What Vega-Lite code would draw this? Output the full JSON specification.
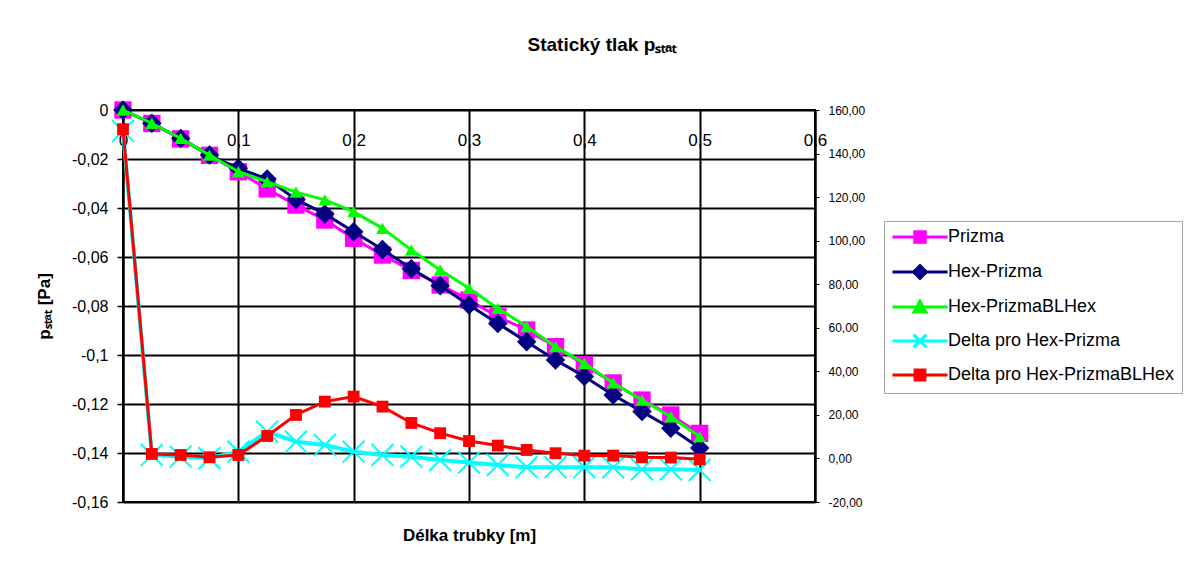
{
  "$schema": "https://vega.github.io/schema/vega-lite/v6.json",
  "width": 692,
  "height": 392,
  "autosize": {"type": "none"},
  "padding": {"left": 123, "top": 110, "right": 381, "bottom": 66},
  "background": "white",
  "config": {
    "view": {"stroke": "black", "strokeWidth": 2},
    "font": "Liberation Sans"
  },
  "title": {
    "text": "Statický tlak pₛₜₐₜ",
    "font": "Liberation Sans",
    "fontSize": 19,
    "fontWeight": "bold",
    "color": "black",
    "anchor": "middle",
    "frame": "group",
    "dx": 133,
    "baseline": "alphabetic",
    "offset": 30
  },
  "data": {
    "values": [
      {"x": 0, "series": "Prizma", "v": 0},
      {"x": 0.025, "series": "Prizma", "v": -0.0055},
      {"x": 0.05, "series": "Prizma", "v": -0.0118},
      {"x": 0.075, "series": "Prizma", "v": -0.0185},
      {"x": 0.1, "series": "Prizma", "v": -0.0252},
      {"x": 0.125, "series": "Prizma", "v": -0.0322},
      {"x": 0.15, "series": "Prizma", "v": -0.0388},
      {"x": 0.175, "series": "Prizma", "v": -0.0449},
      {"x": 0.2, "series": "Prizma", "v": -0.0524},
      {"x": 0.225, "series": "Prizma", "v": -0.0592},
      {"x": 0.25, "series": "Prizma", "v": -0.0655},
      {"x": 0.275, "series": "Prizma", "v": -0.0714},
      {"x": 0.3, "series": "Prizma", "v": -0.0776},
      {"x": 0.325, "series": "Prizma", "v": -0.0844},
      {"x": 0.35, "series": "Prizma", "v": -0.0898},
      {"x": 0.375, "series": "Prizma", "v": -0.0966},
      {"x": 0.4, "series": "Prizma", "v": -0.104},
      {"x": 0.425, "series": "Prizma", "v": -0.1114},
      {"x": 0.45, "series": "Prizma", "v": -0.1184},
      {"x": 0.475, "series": "Prizma", "v": -0.1245},
      {"x": 0.5, "series": "Prizma", "v": -0.132},
      {"x": 0, "series": "Hex-Prizma", "v": 0},
      {"x": 0.025, "series": "Hex-Prizma", "v": -0.0054},
      {"x": 0.05, "series": "Hex-Prizma", "v": -0.0116},
      {"x": 0.075, "series": "Hex-Prizma", "v": -0.0184},
      {"x": 0.1, "series": "Hex-Prizma", "v": -0.0238},
      {"x": 0.125, "series": "Hex-Prizma", "v": -0.0282},
      {"x": 0.15, "series": "Hex-Prizma", "v": -0.0365},
      {"x": 0.175, "series": "Hex-Prizma", "v": -0.0424},
      {"x": 0.2, "series": "Hex-Prizma", "v": -0.0497},
      {"x": 0.225, "series": "Hex-Prizma", "v": -0.0569},
      {"x": 0.25, "series": "Hex-Prizma", "v": -0.0648},
      {"x": 0.275, "series": "Hex-Prizma", "v": -0.0717},
      {"x": 0.3, "series": "Hex-Prizma", "v": -0.0796},
      {"x": 0.325, "series": "Hex-Prizma", "v": -0.0871},
      {"x": 0.35, "series": "Hex-Prizma", "v": -0.0946},
      {"x": 0.375, "series": "Hex-Prizma", "v": -0.102},
      {"x": 0.4, "series": "Hex-Prizma", "v": -0.1088},
      {"x": 0.425, "series": "Hex-Prizma", "v": -0.1163},
      {"x": 0.45, "series": "Hex-Prizma", "v": -0.1231},
      {"x": 0.475, "series": "Hex-Prizma", "v": -0.1299},
      {"x": 0.5, "series": "Hex-Prizma", "v": -0.138},
      {"x": 0, "series": "Hex-PrizmaBLHex", "v": 0},
      {"x": 0.025, "series": "Hex-PrizmaBLHex", "v": -0.0054},
      {"x": 0.05, "series": "Hex-PrizmaBLHex", "v": -0.0116},
      {"x": 0.075, "series": "Hex-PrizmaBLHex", "v": -0.0184},
      {"x": 0.1, "series": "Hex-PrizmaBLHex", "v": -0.0252},
      {"x": 0.125, "series": "Hex-PrizmaBLHex", "v": -0.0293},
      {"x": 0.15, "series": "Hex-PrizmaBLHex", "v": -0.0335},
      {"x": 0.175, "series": "Hex-PrizmaBLHex", "v": -0.0367},
      {"x": 0.2, "series": "Hex-PrizmaBLHex", "v": -0.0415},
      {"x": 0.225, "series": "Hex-PrizmaBLHex", "v": -0.0483},
      {"x": 0.25, "series": "Hex-PrizmaBLHex", "v": -0.0571},
      {"x": 0.275, "series": "Hex-PrizmaBLHex", "v": -0.0653},
      {"x": 0.3, "series": "Hex-PrizmaBLHex", "v": -0.0728},
      {"x": 0.325, "series": "Hex-PrizmaBLHex", "v": -0.081},
      {"x": 0.35, "series": "Hex-PrizmaBLHex", "v": -0.0884},
      {"x": 0.375, "series": "Hex-PrizmaBLHex", "v": -0.0966},
      {"x": 0.4, "series": "Hex-PrizmaBLHex", "v": -0.1034},
      {"x": 0.425, "series": "Hex-PrizmaBLHex", "v": -0.1114},
      {"x": 0.45, "series": "Hex-PrizmaBLHex", "v": -0.1184},
      {"x": 0.475, "series": "Hex-PrizmaBLHex", "v": -0.1252},
      {"x": 0.5, "series": "Hex-PrizmaBLHex", "v": -0.1333},
      {"x": 0, "series": "Delta pro Hex-Prizma", "v": 150.4},
      {"x": 0.025, "series": "Delta pro Hex-Prizma", "v": 1.6},
      {"x": 0.05, "series": "Delta pro Hex-Prizma", "v": 0.8},
      {"x": 0.075, "series": "Delta pro Hex-Prizma", "v": 0.1},
      {"x": 0.1, "series": "Delta pro Hex-Prizma", "v": 3.1},
      {"x": 0.125, "series": "Delta pro Hex-Prizma", "v": 12.3},
      {"x": 0.15, "series": "Delta pro Hex-Prizma", "v": 7.7},
      {"x": 0.175, "series": "Delta pro Hex-Prizma", "v": 6.2},
      {"x": 0.2, "series": "Delta pro Hex-Prizma", "v": 3.1},
      {"x": 0.225, "series": "Delta pro Hex-Prizma", "v": 1.6},
      {"x": 0.25, "series": "Delta pro Hex-Prizma", "v": 0.8},
      {"x": 0.275, "series": "Delta pro Hex-Prizma", "v": -0.7},
      {"x": 0.3, "series": "Delta pro Hex-Prizma", "v": -1.9},
      {"x": 0.325, "series": "Delta pro Hex-Prizma", "v": -3.0},
      {"x": 0.35, "series": "Delta pro Hex-Prizma", "v": -4.0},
      {"x": 0.375, "series": "Delta pro Hex-Prizma", "v": -4.0},
      {"x": 0.4, "series": "Delta pro Hex-Prizma", "v": -4.0},
      {"x": 0.425, "series": "Delta pro Hex-Prizma", "v": -4.1},
      {"x": 0.45, "series": "Delta pro Hex-Prizma", "v": -5.0},
      {"x": 0.475, "series": "Delta pro Hex-Prizma", "v": -5.0},
      {"x": 0.5, "series": "Delta pro Hex-Prizma", "v": -5.3},
      {"x": 0, "series": "Delta pro Hex-PrizmaBLHex", "v": 151.2},
      {"x": 0.025, "series": "Delta pro Hex-PrizmaBLHex", "v": 2.06},
      {"x": 0.05, "series": "Delta pro Hex-PrizmaBLHex", "v": 1.6},
      {"x": 0.075, "series": "Delta pro Hex-PrizmaBLHex", "v": 0.55},
      {"x": 0.1, "series": "Delta pro Hex-PrizmaBLHex", "v": 1.6},
      {"x": 0.125, "series": "Delta pro Hex-PrizmaBLHex", "v": 10.3},
      {"x": 0.15, "series": "Delta pro Hex-PrizmaBLHex", "v": 20.0},
      {"x": 0.175, "series": "Delta pro Hex-PrizmaBLHex", "v": 26.1},
      {"x": 0.2, "series": "Delta pro Hex-PrizmaBLHex", "v": 28.4},
      {"x": 0.225, "series": "Delta pro Hex-PrizmaBLHex", "v": 23.8},
      {"x": 0.25, "series": "Delta pro Hex-PrizmaBLHex", "v": 16.3},
      {"x": 0.275, "series": "Delta pro Hex-PrizmaBLHex", "v": 11.6},
      {"x": 0.3, "series": "Delta pro Hex-PrizmaBLHex", "v": 8.0},
      {"x": 0.325, "series": "Delta pro Hex-PrizmaBLHex", "v": 5.9},
      {"x": 0.35, "series": "Delta pro Hex-PrizmaBLHex", "v": 3.9},
      {"x": 0.375, "series": "Delta pro Hex-PrizmaBLHex", "v": 2.4},
      {"x": 0.4, "series": "Delta pro Hex-PrizmaBLHex", "v": 1.3},
      {"x": 0.425, "series": "Delta pro Hex-PrizmaBLHex", "v": 1.3},
      {"x": 0.45, "series": "Delta pro Hex-PrizmaBLHex", "v": 0.5},
      {"x": 0.475, "series": "Delta pro Hex-PrizmaBLHex", "v": 0.4},
      {"x": 0.5, "series": "Delta pro Hex-PrizmaBLHex", "v": -0.4}
    ]
  },
  "encoding": {
    "x": {
      "field": "x",
      "type": "quantitative",
      "scale": {"domain": [0, 0.6], "nice": false, "zero": false},
      "axis": {
        "orient": "top",
        "values": [0, 0.1, 0.2, 0.3, 0.4, 0.5, 0.6],
        "labelExpr": "replace(toString(datum.value), '.', ',')",
        "domain": false,
        "ticks": false,
        "tickSize": 0,
        "labelPadding": -30,
        "labelBaseline": "middle",
        "labelFont": "Liberation Sans",
        "labelFontSize": 17,
        "labelColor": "black",
        "labelFlush": false,
        "labelOverlap": false,
        "labelBound": false,
        "grid": true,
        "gridColor": "black",
        "gridWidth": 2,
        "gridOpacity": 1,
        "title": "Délka trubky [m]",
        "titleFont": "Liberation Sans",
        "titleFontSize": 17,
        "titleFontWeight": "bold",
        "titleColor": "black",
        "titleX": 346,
        "titleY": 425,
        "titleAlign": "center",
        "titleBaseline": "middle",
        "titleAngle": 0
      }
    },
    "color": {
      "field": "series",
      "type": "nominal",
      "scale": {
        "domain": ["Prizma", "Hex-Prizma", "Hex-PrizmaBLHex", "Delta pro Hex-Prizma", "Delta pro Hex-PrizmaBLHex"],
        "range": ["#ff00ff", "#000080", "#00ff00", "#00ffff", "#ff0000"]
      },
      "legend": null
    }
  },
  "layer": [
    {
      "encoding": {
        "y": {
          "field": "v",
          "type": "quantitative",
          "scale": {"domain": [-0.16, 0], "nice": false, "zero": false},
          "axis": {
            "orient": "left",
            "values": [0, -0.02, -0.04, -0.06, -0.08, -0.1, -0.12, -0.14, -0.16],
            "labelExpr": "replace(toString(datum.value), '.', ',')",
            "grid": true,
            "gridColor": "black",
            "gridWidth": 2,
            "gridOpacity": 1,
            "domainColor": "black",
            "domainWidth": 2,
            "tickColor": "black",
            "tickWidth": 1.5,
            "tickSize": 6,
            "labelPadding": 9,
            "labelFont": "Liberation Sans",
            "labelFontSize": 16,
            "labelColor": "black",
            "labelOverlap": false,
            "labelFlush": false,
            "title": "pₛₜₐₜ [Pa]",
            "titleFont": "Liberation Sans",
            "titleFontSize": 17,
            "titleFontWeight": "bold",
            "titleColor": "black",
            "titlePadding": 18
          }
        }
      },
      "layer": [
        {
          "transform": [{"filter": "datum.series === 'Prizma'"}],
          "mark": {"type": "line", "strokeWidth": 3, "point": {"shape": "square", "size": 300, "filled": true, "opacity": 1}},
          "encoding": {
            "color": {
              "field": "series",
              "type": "nominal",
              "scale": {
                "domain": ["Prizma", "Hex-Prizma", "Hex-PrizmaBLHex", "Delta pro Hex-Prizma", "Delta pro Hex-PrizmaBLHex"],
                "range": ["#ff00ff", "#000080", "#00ff00", "#00ffff", "#ff0000"]
              },
              "legend": {
                "orient": "none",
                "legendX": 761,
                "legendY": 111,
                "title": null,
                "padding": 7,
                "strokeColor": "#a6a6a6",
                "fillColor": "white",
                "labelFont": "Liberation Sans",
                "labelFontSize": 18,
                "labelColor": "black",
                "labelLimit": 400,
                "rowPadding": 10,
                "symbolSize": 150,
                "symbolStrokeWidth": 3,
                "symbolOffset": 20,
                "labelOffset": 19,
                "encode": {
                  "symbols": {
                    "update": {
                      "shape": {"signal": "datum.value === 'Prizma' ? 'M-4.5,0L4.5,0M-0.85,-0.85L0.85,-0.85L0.85,0.85L-0.85,0.85Z' : datum.value === 'Hex-Prizma' ? 'M-4.5,0L4.5,0M0,-1.05L1.05,0L0,1.05L-1.05,0Z' : datum.value === 'Hex-PrizmaBLHex' ? 'M-4.5,0L4.5,0M0,-0.95L0.95,0.8L-0.95,0.8Z' : datum.value === 'Delta pro Hex-Prizma' ? 'M-4.5,0L4.5,0M-1.05,-1.05L1.05,1.05M-1.05,1.05L1.05,-1.05' : 'M-4.5,0L4.5,0M-0.8,-0.8L0.8,-0.8L0.8,0.8L-0.8,0.8Z'"},
                      "fill": {"signal": "datum.value === 'Prizma' ? '#ff00ff' : datum.value === 'Hex-Prizma' ? '#000080' : datum.value === 'Hex-PrizmaBLHex' ? '#00ff00' : datum.value === 'Delta pro Hex-Prizma' ? 'transparent' : '#ff0000'"},
                      "stroke": {"signal": "datum.value === 'Prizma' ? '#ff00ff' : datum.value === 'Hex-Prizma' ? '#000080' : datum.value === 'Hex-PrizmaBLHex' ? '#00ff00' : datum.value === 'Delta pro Hex-Prizma' ? '#00ffff' : '#ff0000'"},
                      "strokeWidth": {"value": 3},
                      "opacity": {"value": 1},
                      "fillOpacity": {"value": 1},
                      "strokeOpacity": {"value": 1}
                    }
                  }
                }
              }
            }
          }
        },
        {
          "transform": [{"filter": "datum.series === 'Hex-Prizma'"}],
          "mark": {"type": "line", "strokeWidth": 3, "point": {"shape": "diamond", "size": 380, "filled": true, "opacity": 1}}
        },
        {
          "transform": [{"filter": "datum.series === 'Hex-PrizmaBLHex'"}],
          "mark": {"type": "line", "strokeWidth": 3, "point": {"shape": "triangle-up", "size": 170, "filled": true, "opacity": 1}}
        }
      ]
    },
    {
      "encoding": {
        "y": {
          "field": "v",
          "type": "quantitative",
          "scale": {"domain": [-20, 160], "nice": false, "zero": false},
          "axis": {
            "orient": "right",
            "values": [-20, 0, 20, 40, 60, 80, 100, 120, 140, 160],
            "labelExpr": "replace(replace(format(datum.value, '.2f'), '.', ','), '\u2212', '-')",
            "grid": false,
            "domainColor": "black",
            "domainWidth": 2,
            "tickColor": "black",
            "tickWidth": 1,
            "tickSize": 4,
            "labelPadding": 9,
            "labelFont": "Liberation Sans",
            "labelFontSize": 12,
            "labelColor": "black",
            "labelOverlap": false,
            "labelFlush": false,
            "title": null
          }
        }
      },
      "layer": [
        {
          "transform": [{"filter": "datum.series === 'Delta pro Hex-Prizma'"}],
          "mark": {"type": "line", "strokeWidth": 4, "point": {"shape": "M-1,-1L1,1M-1,1L1,-1", "size": 480, "filled": false, "strokeWidth": 2, "opacity": 1}}
        },
        {
          "transform": [{"filter": "datum.series === 'Delta pro Hex-PrizmaBLHex'"}],
          "mark": {"type": "line", "strokeWidth": 3, "point": {"shape": "square", "size": 140, "filled": true, "opacity": 1}}
        }
      ]
    }
  ],
  "resolve": {"scale": {"y": "independent"}}
}
